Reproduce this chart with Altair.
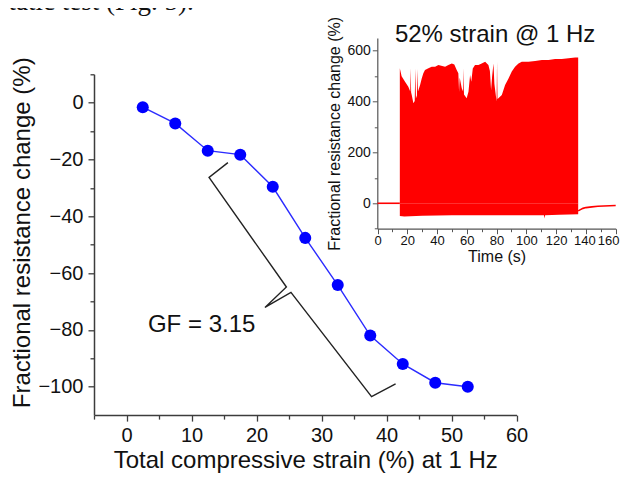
import altair as alt
import pandas as pd

# ---- main series: total compressive strain (%) vs fractional resistance change (%)
strain = [2.5, 7.5, 12.5, 17.5, 22.5, 27.5, 32.5, 37.5, 42.5, 47.5, 52.5]
resistance = [-1.6, -7.3, -16.9, -18.3, -29.6, -47.6, -64.2, -82.0, -92.0, -98.6, -100.0]

# ---- curly brace annotation (data units of the main chart)
brace_x = [15.6, 12.7, 24.6, 21.3, 25.3, 37.7, 41.4]
brace_y = [-21.1, -26.3, -64.9, -72.1, -66.8, -103.5, -99.0]
gf_label = "GF = 3.15"
gf_x, gf_y = 3.3, -80.6

# ---- inset: cyclic test, 52% strain @ 1 Hz (envelope of the signal)
upper_t = [15.0, 16.2, 18.5, 20.7, 22.0, 22.3, 22.6, 23.0, 24.1, 25.0, 25.4, 25.8, 26.5, 26.8,
           27.2, 28.6, 29.7, 30.8, 31.9, 34.2, 36.4, 38.7, 40.9, 45.4, 47.6, 49.9, 51.6, 53.2,
           54.3, 54.8, 55.2, 56.6, 57.5, 57.8, 58.1, 59.9, 61.1, 62.2, 63.0, 64.0, 65.5, 67.8,
           70.0, 72.3, 74.5, 75.5, 76.3, 77.0, 77.9, 78.5, 80.0, 80.3, 80.6, 81.2, 83.5, 85.7,
           88.0, 90.2, 92.4, 94.7, 96.9, 101.4, 105.9, 110.4, 114.9, 119.3, 123.8, 128.3,
           132.8, 134.8]
upper_v = [531, 500, 478, 458, 440, 531, 436, 426, 393, 402, 530, 412, 424, 528,
           440, 465, 491, 511, 524, 531, 537, 537, 544, 537, 544, 550, 546, 524,
           511, 439, 495, 452, 440, 531, 428, 413, 439, 504, 478, 530, 544, 544,
           550, 557, 544, 520, 445, 500, 550, 470, 400, 557, 410, 413, 426, 465,
           491, 518, 537, 550, 557, 557, 560, 563, 563, 567, 567, 570,
           573, 573]
lower_t = [15.0, 18.0, 30.0, 50.0, 70.0, 90.0, 111.8, 112.2, 112.6, 122.0, 134.8]
lower_v = [-50, -52, -49, -47, -47, -47, -47, -60, -47, -45, -43]
before_t = [0, 15]
before_v = [0, 0]
after_t = [134.8, 136, 138, 140, 144, 148, 152, 156, 160]
after_v = [-30, -26, -20, -17, -14, -12, -11, -10, -9]
inset_title = "52% strain @ 1 Hz"
inset_title_t, inset_title_v = 79, 635

top_text = "static test (Fig. 5)."

FONT = "Liberation Sans"
AX = "#3c3c3c"
RED = "#ff0000"

# ---------------- main chart ----------------
main_df = pd.DataFrame({"x": strain, "y": resistance})
brace_df = pd.DataFrame({"x": brace_x, "y": brace_y, "o": list(range(len(brace_x)))})
gf_df = pd.DataFrame({"x": [gf_x], "y": [gf_y], "label": [gf_label]})

xs = alt.Scale(domain=[-5, 60], nice=False, zero=False)
ys = alt.Scale(domain=[-110, 10], nice=False, zero=False)

x_axis = alt.Axis(
    title="Total compressive strain (%) at 1 Hz",
    values=list(range(-5, 61, 5)),
    labelExpr="datum.value % 10 === 0 ? datum.label : ''",
    tickSize={"condition": {"test": "datum.value % 10 === 0", "value": 6}, "value": 4},
    labelOverlap=False, labelFlush=False, grid=False,
    domainColor=AX, tickColor=AX, domainWidth=1.5, tickWidth=1.3,
    labelFont=FONT, labelFontSize=20, labelColor="#111", labelPadding=4,
    titleFont=FONT, titleFontSize=24, titleFontWeight="normal", titleColor="#111",
    titlePadding=3,
)
y_axis = alt.Axis(
    title="Fractional resistance change (%)",
    values=list(range(-100, 11, 10)),
    labelExpr="datum.value % 20 === 0 ? datum.label : ''",
    tickSize={"condition": {"test": "datum.value % 20 === 0", "value": 6}, "value": 4},
    labelOverlap=False, grid=False,
    domainColor=AX, tickColor=AX, domainWidth=1.5, tickWidth=1.3,
    labelFont=FONT, labelFontSize=20, labelColor="#111", labelPadding=5,
    titleFont=FONT, titleFontSize=24, titleFontWeight="normal", titleColor="#111",
    titlePadding=3, titleY=158,
)

X = alt.X("x:Q", scale=xs, axis=x_axis)
Y = alt.Y("y:Q", scale=ys, axis=y_axis)

line = alt.Chart(main_df).mark_line(color="#2b2bff", strokeWidth=1.4).encode(x=X, y=Y)
pts = alt.Chart(main_df).mark_circle(size=145, color="#0000ff", opacity=1).encode(x=X, y=Y)
brace = alt.Chart(brace_df).mark_line(color="#222222", strokeWidth=1.4).encode(
    x=X, y=Y, order="o:Q")
gf = alt.Chart(gf_df).mark_text(
    align="left", baseline="alphabetic", font=FONT, fontSize=24, color="#111"
).encode(x=X, y=Y, text="label:N")
top = alt.Chart(pd.DataFrame({"t": [top_text]})).mark_text(
    align="left", baseline="alphabetic", font="Liberation Serif", fontSize=27, color="#111"
).encode(x=alt.value(-96), y=alt.value(-64), text="t:N")

main = alt.layer(line, pts, brace, gf, top)

# ---------------- inset ----------------
up_df = pd.DataFrame({"t": upper_t, "v": upper_v, "v0": [0] * len(upper_t)})
lo_df = pd.DataFrame({"t": lower_t, "v": lower_v, "v0": [0] * len(lower_t)})
bef_df = pd.DataFrame({"t": before_t, "v": before_v})
aft_df = pd.DataFrame({"t": after_t, "v": after_v})
it_df = pd.DataFrame({"t": [inset_title_t], "v": [inset_title_v], "label": [inset_title]})

ixs = alt.Scale(domain=[0, 160], nice=False, zero=False, range=[283.5, 521.7])
iys = alt.Scale(domain=[-100, 650], nice=False, zero=False, range=[154.4, -36.3])

ix_axis = alt.Axis(
    orient="bottom", offset=-186.4, title="Time (s)",
    values=list(range(0, 161, 10)),
    labelExpr="datum.value % 20 === 0 ? datum.label : ''",
    tickSize={"condition": {"test": "datum.value % 20 === 0", "value": 5}, "value": 3},
    labelOffset={"condition": [{"test": "datum.value === 160", "value": -7.5},
                               {"test": "datum.value === 140", "value": -1.5}],
                 "value": 0},
    labelOverlap=False, labelFlush=False, grid=False,
    domainColor="#555", tickColor="#555", domainWidth=1.2, tickWidth=1,
    labelFont=FONT, labelFontSize=13, labelColor="#111", labelPadding=1,
    titleFont=FONT, titleFontSize=16, titleFontWeight="normal", titleColor="#111",
    titlePadding=1,
)
iy_axis = alt.Axis(
    orient="left", offset=-283.3, title="Fractional resistance change (%)",
    values=list(range(-100, 651, 100)),
    labelExpr="datum.value % 200 === 0 ? datum.label : ''",
    tickSize={"condition": {"test": "datum.value % 200 === 0", "value": 5}, "value": 3},
    labelOverlap=False, grid=False,
    domainColor="#555", tickColor="#555", domainWidth=1.2, tickWidth=1,
    labelFont=FONT, labelFontSize=14, labelColor="#111", labelPadding=2,
    titleFont=FONT, titleFontSize=16, titleFontWeight="normal", titleColor="#111",
    titlePadding=4,
)
IX = alt.X("t:Q", scale=ixs, axis=ix_axis)
IY = alt.Y("v:Q", scale=iys, axis=iy_axis)

up = alt.Chart(up_df).mark_area(color=RED, opacity=1, strokeWidth=0).encode(
    x=IX, y=IY, y2="v0:Q")
lo = alt.Chart(lo_df).mark_area(color=RED, opacity=1, strokeWidth=0).encode(
    x=IX, y=IY, y2="v0:Q")
bef = alt.Chart(bef_df).mark_line(color=RED, strokeWidth=1.6).encode(x=IX, y=IY)
aft = alt.Chart(aft_df).mark_line(color=RED, strokeWidth=1.6).encode(x=IX, y=IY)
ititle = alt.Chart(it_df).mark_text(
    align="center", baseline="alphabetic", font=FONT, fontSize=24, color="#111"
).encode(x=IX, y=IY, text="label:N")

inset = alt.layer(up, lo, bef, aft, ititle)

chart = (
    alt.layer(main, inset)
    .resolve_scale(x="independent", y="independent")
    .properties(
        width=422.5, height=340.8,
        padding={"left": 86, "top": 66.3, "right": 103.5, "bottom": 57.9},
        autosize=alt.AutoSizeParams(type="none"),
        background="white",
    )
    .configure_view(stroke=None)
)

chart.save("out.html", embed_options={"renderer": "svg", "actions": False})
